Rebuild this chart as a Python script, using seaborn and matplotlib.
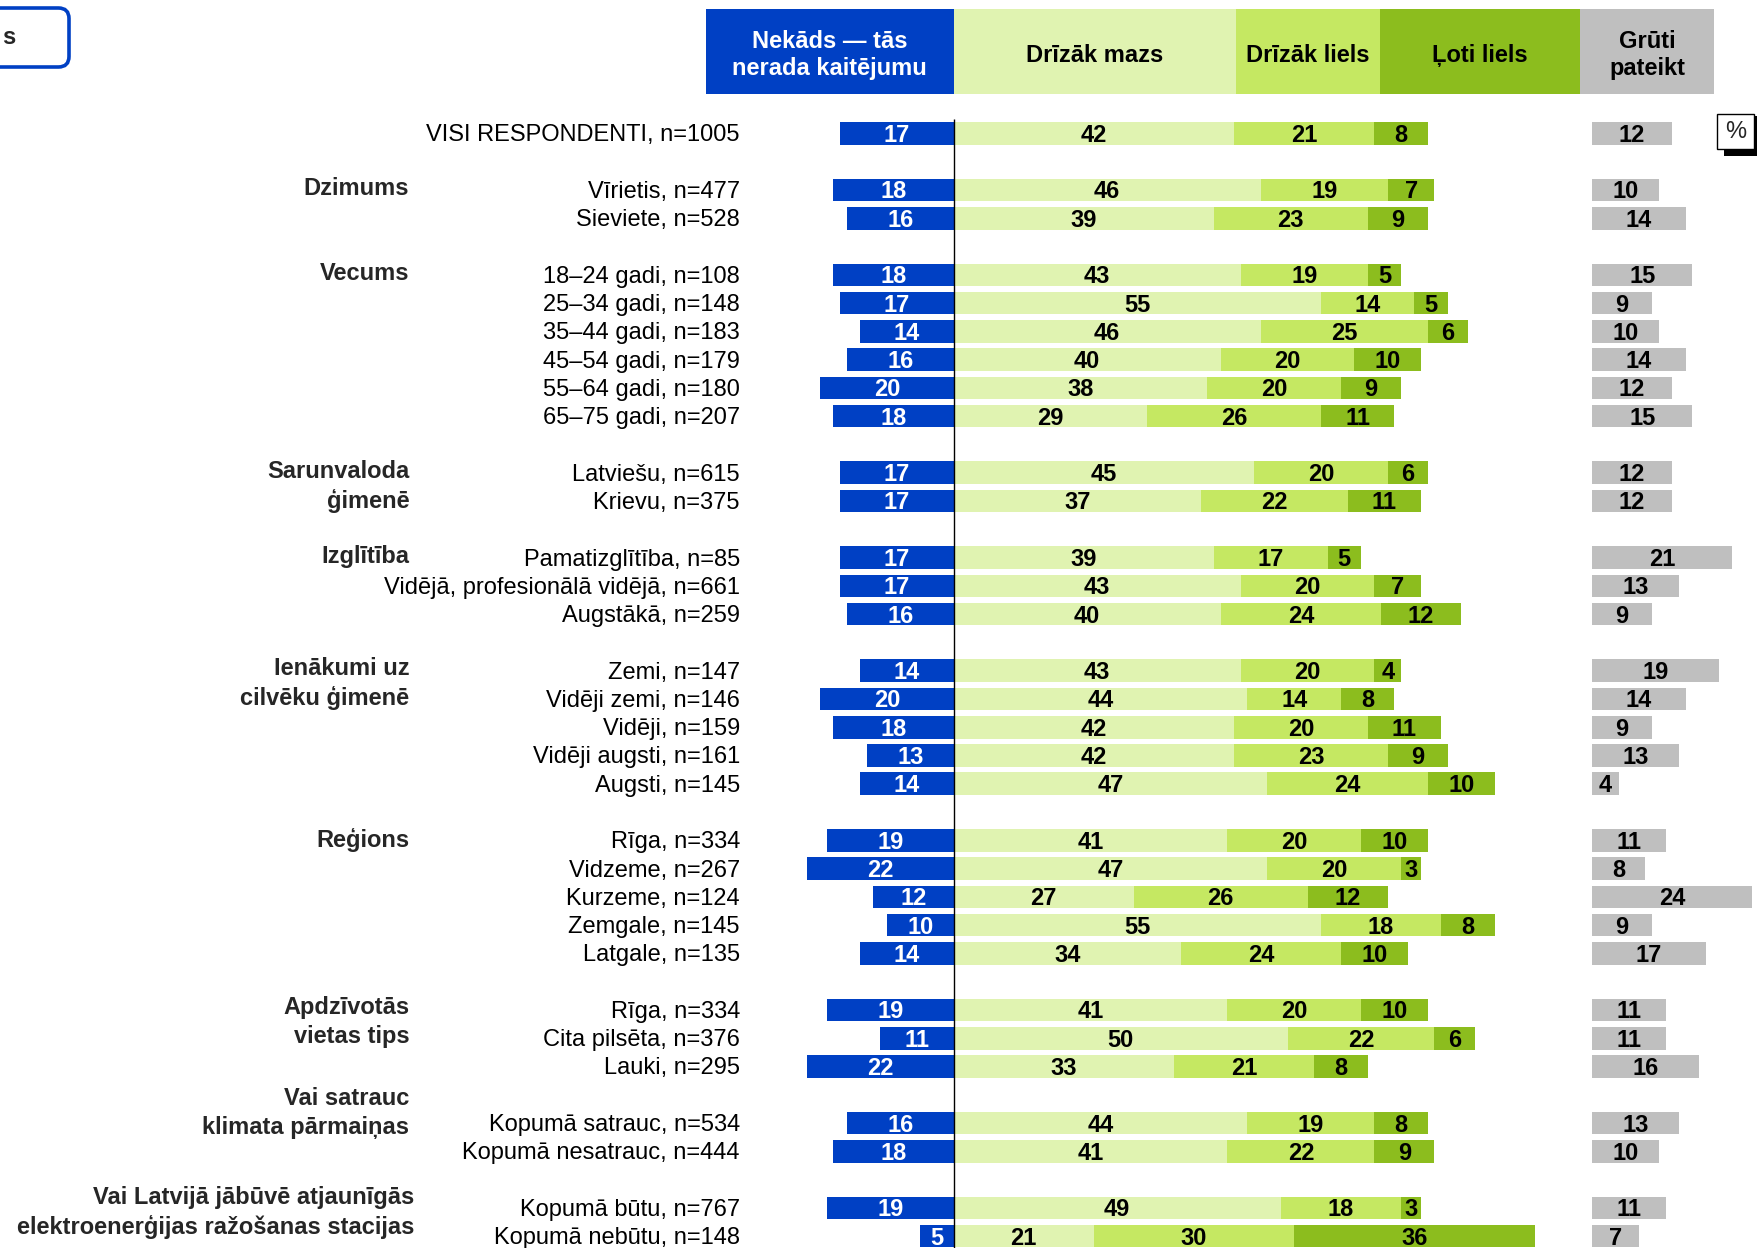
import numpy as np
import pandas as pd
import matplotlib
matplotlib.use("Agg")
import matplotlib.pyplot as plt
import seaborn as sns
from matplotlib.patches import Rectangle, FancyBboxPatch

sns.set_theme(style='white')
plt.rcParams['font.family'] = ['Liberation Sans', 'DejaVu Sans']

# row labels and their slot (empty slot = gap between groups)
labels = ['VISI RESPONDENTI, n=1005',
          'Vīrietis, n=477', 'Sieviete, n=528',
          '18–24 gadi, n=108', '25–34 gadi, n=148', '35–44 gadi, n=183',
          '45–54 gadi, n=179', '55–64 gadi, n=180', '65–75 gadi, n=207',
          'Latviešu, n=615', 'Krievu, n=375',
          'Pamatizglītība, n=85', 'Vidējā, profesionālā vidējā, n=661', 'Augstākā, n=259',
          'Zemi, n=147', 'Vidēji zemi, n=146', 'Vidēji, n=159', 'Vidēji augsti, n=161', 'Augsti, n=145',
          'Rīga, n=334', 'Vidzeme, n=267', 'Kurzeme, n=124', 'Zemgale, n=145', 'Latgale, n=135',
          'Rīga, n=334', 'Cita pilsēta, n=376', 'Lauki, n=295',
          'Kopumā satrauc, n=534', 'Kopumā nesatrauc, n=444',
          'Kopumā būtu, n=767', 'Kopumā nebūtu, n=148']
slots = [0, 2, 3, 5, 6, 7, 8, 9, 10, 12, 13, 15, 16, 17,
         19, 20, 21, 22, 23, 25, 26, 27, 28, 29, 31, 32, 33, 35, 36, 38, 39]

nekads = [17, 18, 16, 18, 17, 14, 16, 20, 18, 17, 17, 17, 17, 16,
          14, 20, 18, 13, 14, 19, 22, 12, 10, 14, 19, 11, 22, 16, 18, 19, 5]
mazs = [42, 46, 39, 43, 55, 46, 40, 38, 29, 45, 37, 39, 43, 40,
        43, 44, 42, 42, 47, 41, 47, 27, 55, 34, 41, 50, 33, 44, 41, 49, 21]
liels = [21, 19, 23, 19, 14, 25, 20, 20, 26, 20, 22, 17, 20, 24,
         20, 14, 20, 23, 24, 20, 20, 26, 18, 24, 20, 22, 21, 19, 22, 18, 30]
loti = [8, 7, 9, 5, 5, 6, 10, 9, 11, 6, 11, 5, 7, 12,
        4, 8, 11, 9, 10, 10, 3, 12, 8, 10, 10, 6, 8, 8, 9, 3, 36]
gruti = [12, 10, 14, 15, 9, 10, 14, 12, 15, 12, 12, 21, 13, 9,
         19, 14, 9, 13, 4, 11, 8, 24, 9, 17, 11, 11, 16, 13, 10, 11, 7]

headers = ['Nekāds — tās\nnerada kaitējumu', 'Drīzāk mazs', 'Drīzāk liels', 'Ļoti liels', 'Grūti\npateikt']

group_lines = [('Dzimums', 1.86), ('Vecums', 4.88),
               ('Sarunvaloda', 11.89), ('ģimenē', 12.92),
               ('Izglītība', 14.90),
               ('Ienākumi uz', 18.86), ('cilvēku ģimenē', 19.89),
               ('Reģions', 24.93),
               ('Apdzīvotās', 30.84), ('vietas tips', 31.87),
               ('Vai satrauc', 34.05), ('klimata pārmaiņas', 35.08)]
group_lines_wide = [('Vai Latvijā jābūvē atjaunīgās', 37.57),
                    ('elektroenerģijas ražošanas stacijas', 38.60)]

BLUE = '#0040C4'
LIGHT = '#E0F3B1'
MID = '#C5E862'
DARK = '#8CBD1E'
GRAY = '#BFBFBF'

GRAY_OFFSET = 95.6
DY = 0.07  # small nudge so text sits on the bar centre like the original

df = pd.DataFrame({'slot': slots, 'nekads': nekads, 'mazs': mazs,
                   'liels': liels, 'loti': loti, 'gruti': gruti})
df['neg'] = -df['nekads']

fig = plt.figure(figsize=(17.57, 12.48), dpi=100)
ax = fig.add_axes([0, 0, 1, 1])


def seg(col, left, color):
    sns.barplot(data=df, x=col, y='slot', orient='y', native_scale=True,
                left=np.asarray(left, dtype=float), color=color, saturation=1,
                width=0.8, errorbar=None, linewidth=0, ax=ax)


zeros = np.zeros(len(df))
seg('neg', zeros, BLUE)
seg('mazs', zeros, LIGHT)
seg('liels', df['mazs'], MID)
seg('loti', df['mazs'] + df['liels'], DARK)
seg('gruti', np.full(len(df), GRAY_OFFSET), GRAY)

fs = 17
# value labels
for i, s in enumerate(slots):
    y = s + DY
    ax.text(-nekads[i] / 2, y, str(nekads[i]), ha='center', va='center',
            fontsize=fs, fontweight='bold', color='white')
    ax.text(mazs[i] / 2, y, str(mazs[i]), ha='center', va='center',
            fontsize=fs, fontweight='bold', color='black')
    ax.text(mazs[i] + liels[i] / 2, y, str(liels[i]), ha='center', va='center',
            fontsize=fs, fontweight='bold', color='black')
    ax.text(mazs[i] + liels[i] + loti[i] / 2, y, str(loti[i]), ha='center', va='center',
            fontsize=fs, fontweight='bold', color='black')
    ax.text(GRAY_OFFSET + gruti[i] / 2, y, str(gruti[i]), ha='center', va='center',
            fontsize=fs, fontweight='bold', color='black')
    ax.text(-32.0, y, labels[i], ha='right', va='center', fontsize=fs, color='black')

for txt, y in group_lines:
    ax.text(-81.5, y + DY, txt, ha='right', va='center', fontsize=fs, fontweight='bold')
for txt, y in group_lines_wide:
    ax.text(-80.7, y + DY, txt, ha='right', va='center', fontsize=fs, fontweight='bold')

# zero line
ax.vlines(0, -0.5, 40, color='black', lw=1)

# header
edges = [-37.1, 0, 42.3, 63.9, 93.8, 113.9]
hcolors = [BLUE, LIGHT, MID, DARK, GRAY]
for k in range(5):
    ax.add_patch(Rectangle((edges[k], -4.40), edges[k + 1] - edges[k], 3.01,
                           facecolor=hcolors[k], edgecolor='none'))
    ax.text((edges[k] + edges[k + 1]) / 2, -2.89 + 0.12, headers[k], ha='center', va='center',
            fontsize=fs, fontweight='bold', linespacing=1.25,
            color='white' if k == 0 else 'black')

ax.set_xlim(-142.8, 120.3)
ax.set_ylim(39.42, -4.72)
ax.axis('off')

# cut-off box at top-left
W, H = 1757, 1248
ax.add_patch(FancyBboxPatch((-20 / W, 1 - 67 / H), 89 / W, 59 / H,
                            boxstyle='round,pad=0,rounding_size=0.006',
                            mutation_aspect=W / H, transform=ax.transAxes,
                            facecolor='white', edgecolor=BLUE, lw=2.6, clip_on=False))
ax.text(15 / W, 1 - 38 / H, 's', transform=ax.transAxes, ha='right', va='center',
        fontsize=fs, fontweight='bold')

# % box
ax.add_patch(Rectangle((1724 / W, 1 - 156 / H), 40 / W, 40 / H, transform=ax.transAxes,
                       facecolor='black', edgecolor='none', clip_on=False))
ax.add_patch(Rectangle((1717 / W, 1 - 149 / H), 37 / W, 35 / H, transform=ax.transAxes,
                       facecolor='white', edgecolor='black', lw=1, clip_on=False))
ax.text(1735.5 / W, 1 - 131.5 / H, '%', transform=ax.transAxes, ha='center', va='center',
        fontsize=fs)

fig.savefig('out.png', dpi=100)
